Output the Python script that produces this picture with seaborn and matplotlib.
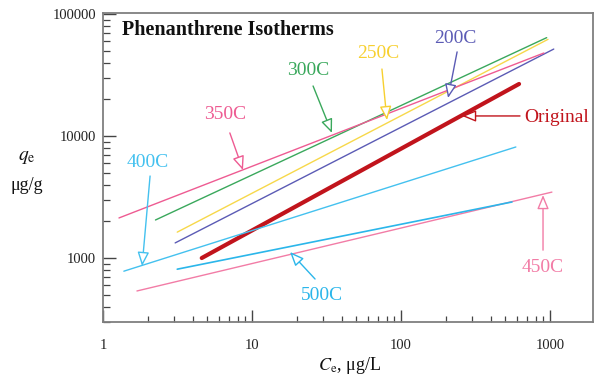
import numpy as np
import pandas as pd
import matplotlib
matplotlib.use("Agg")
import matplotlib.pyplot as plt
import seaborn as sns

# ---- data (endpoints of each fitted isotherm) ----
series = ["Original", "200C", "250C", "300C", "350C", "400C", "450C", "500C"]
ce_start = [4.6, 3.05, 3.15, 2.25, 1.28, 1.38, 1.69, 3.15]
ce_end = [620, 1060, 970, 950, 910, 590, 1030, 556]
qe_start = [1000, 1330, 1630, 2050, 2130, 780, 537, 810]
qe_end = [26700, 51600, 62000, 64000, 47900, 8130, 3470, 2880]
colors = ["#c1141c", "#5b5bb5", "#f7d84a", "#3aa85c", "#ee5b92",
          "#44c1ef", "#f27ca6", "#2bb6ea"]
widths = [3.0, 1.0, 1.0, 1.0, 1.0, 1.0, 1.0, 1.2]

title = "Phenanthrene Isotherms"
x_ticks = [1, 10, 100, 1000]
y_ticks = [1000, 10000, 100000]

rows = []
for s, x0, x1, y0, y1 in zip(series, ce_start, ce_end, qe_start, qe_end):
    rows.append({"series": s, "Ce": x0, "qe": y0})
    rows.append({"series": s, "Ce": x1, "qe": y1})
df = pd.DataFrame(rows)

sns.set_style("white")
plt.rcParams["font.family"] = ["Liberation Serif", "DejaVu Serif"]
plt.rcParams["mathtext.fontset"] = "stix"

fig = plt.figure(figsize=(5.94, 3.77), dpi=100)
ax = fig.add_axes([103 / 594, 1 - 322 / 377, 490 / 594, 309 / 377])

sns.lineplot(data=df, x="Ce", y="qe", hue="series", hue_order=series,
             palette=dict(zip(series, colors)), size="series",
             sizes=dict(zip(series, widths)), size_order=series,
             legend=False, ax=ax, estimator=None, sort=False)

ax.set_xscale("log")
ax.set_yscale("log")
ax.set_xlim(1, 1944)
ax.set_ylim(299, 101900)
ax.set_xticks(x_ticks)
ax.set_xticklabels([str(t) for t in x_ticks])
ax.set_yticks(y_ticks)
ax.set_yticklabels([str(t) for t in y_ticks])
ax.set_xlabel("")
ax.set_ylabel("")

for sp in ax.spines.values():
    sp.set_color("#7f7f7f")
    sp.set_linewidth(1.3)
ax.tick_params(which="both", bottom=True, left=True, top=False, right=False)
ax.tick_params(which="major", direction="in", length=9, width=1, color="#444444",
               labelsize=10.5, labelcolor="#222222")
ax.tick_params(which="minor", direction="in", length=4, width=0.9, color="#444444")
ax.tick_params(axis="x", which="major", pad=12)
ax.tick_params(axis="y", which="major", pad=5)
ax.tick_params(axis="y", which="minor", length=5)

ax.text(0.038, 0.945, title, transform=ax.transAxes, fontsize=14.5,
        fontweight="bold", color="#111111", ha="left", va="center")

# annotations: (label, colour, text xy, arrow tip xy, arrow tail xy) in data coords
annots = [
    ("350C", "#ee5b92", (6.6, 15100), (8.7, 5260), (7.1, 10600)),
    ("300C", "#3aa85c", (23.8, 34700), (34.4, 10600), (25.7, 25700)),
    ("250C", "#f7d030", (70, 47900), (80.5, 13500), (74.5, 35400)),
    ("200C", "#5b5bb5", (230, 63500), (207, 20500), (238, 48900)),
    ("Original", "#c1141c", (1114, 14300), (257, 14600), (629, 14600)),
    ("400C", "#44c1ef", (2.0, 6120), (1.83, 860), (2.07, 4700)),
    ("500C", "#2bb6ea", (29.5, 489), (18.0, 1120), (26.5, 673)),
    ("450C", "#f27ca6", (898, 843), (898, 3280), (898, 1160)),
]
for lab, col, txy, tip, tail in annots:
    ax.text(txy[0], txy[1], lab, color=col, fontsize=14, ha="center", va="center")
    ax.annotate("", xy=tip, xytext=tail,
                arrowprops=dict(arrowstyle="-|>,head_length=0.6,head_width=0.25",
                                fc="white", ec=col, lw=1.0, mutation_scale=14,
                                shrinkA=0, shrinkB=0))

fig.text(27 / 594, 1 - 158 / 377, r"$q_\mathrm{e}$", fontsize=14, ha="center",
         va="center", color="#111111")
fig.text(27 / 594, 1 - 185 / 377, "μg/g", fontsize=13, ha="center",
         va="center", color="#111111")
fig.text(349 / 594, 1 - 366 / 377, r"$C_\mathrm{e}$, μg/L", fontsize=13,
         ha="center", va="center", color="#111111")

fig.savefig("out.png", dpi=100)
